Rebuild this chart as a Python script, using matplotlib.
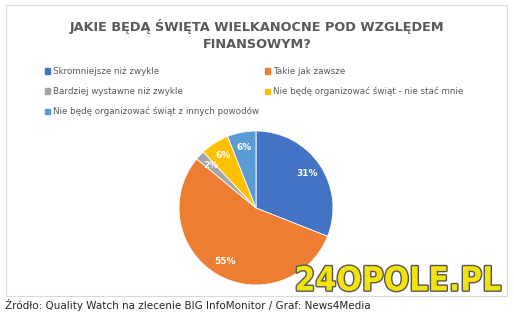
import matplotlib.pyplot as plt
import matplotlib.patches as mpatches
import matplotlib.patheffects as pe

# data
labels = ["Skromniejsze niż zwykle", "Takie jak zawsze", "Bardziej wystawne niż zwykle",
          "Nie będę organizować świąt - nie stać mnie", "Nie będę organizować świąt z innych powodów"]
values = [31, 55, 2, 6, 6]
colors = ["#4472C4", "#ED7D31", "#A5A5A5", "#FFC000", "#5B9BD5"]

title = "JAKIE BĘDĄ ŚWIĘTA WIELKANOCNE POD WZGLĘDEM\nFINANSOWYM?"
source = "Źródło: Quality Watch na zlecenie BIG InfoMonitor / Graf: News4Media"

W, H = 514, 315
fig = plt.figure(figsize=(W / 100, H / 100), dpi=100)
fig.patch.set_facecolor("white")

# chart frame
fig.add_artist(mpatches.Rectangle((6 / W, 1 - 296 / H), 501 / W, 291 / H,
                                  transform=fig.transFigure, fill=False,
                                  edgecolor="#d9d9d9", linewidth=0.8))

fig.text(257 / W, 1 - 35 / H, title, ha="center", va="center", fontsize=9.3,
         fontweight="bold", color="#595959", linespacing=1.45)

# legend
handles = [mpatches.Patch(color=c, label=l) for c, l in zip(colors, labels)]
order = [0, 2, 4, 1, 3]
leg = fig.legend([handles[i] for i in order], [labels[i] for i in order],
                 ncol=2, loc="upper left", bbox_to_anchor=(45 / W, 1 - 67 / H),
                 frameon=False, fontsize=6.3, handlelength=0.6, handleheight=0.6,
                 handletextpad=0.35, columnspacing=0.6, labelspacing=1.25,
                 borderpad=0, borderaxespad=0)
for t in leg.get_texts():
    t.set_color("#595959")

# pie
r = 77
cx, cy = 256, 208
ax = fig.add_axes([(cx - r) / W, 1 - (cy + r) / H, 2 * r / W, 2 * r / H])
wedges, texts, autotexts = ax.pie(values, colors=colors, startangle=90, counterclock=False,
                                  autopct="%d%%", pctdistance=0.8,
                                  wedgeprops=dict(edgecolor="white", linewidth=0.6),
                                  textprops=dict(color="white", fontsize=6.5, fontweight="bold"))
ax.set_xlim(-1, 1)
ax.set_ylim(-1, 1)
ax.set_aspect("equal")

fig.text(5 / W, 1 - 305 / H, source, ha="left", va="center", fontsize=7.5, color="#262626")

# watermark
wm = fig.text(398 / W, 1 - 281 / H, "24OPOLE.PL", ha="center", va="center", fontsize=24,
              fontweight="bold", color="#F2E30C", fontstretch="condensed")
wm.set_path_effects([pe.withStroke(linewidth=2, foreground="#555555")])

fig.savefig("out.png", dpi=100)
